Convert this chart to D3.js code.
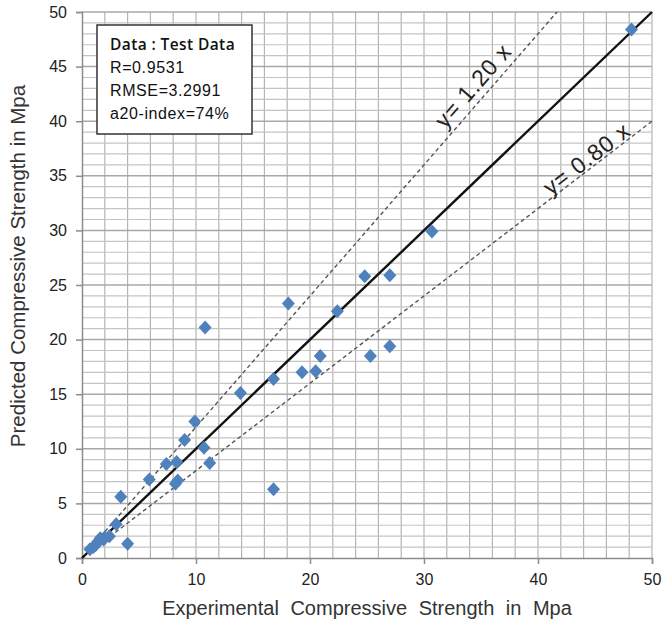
<!DOCTYPE html>
<html><head><meta charset="utf-8">
<script src="https://cdn.jsdelivr.net/npm/d3@7"></script>
<style>body{margin:0;background:#fff}svg{display:block}</style>
</head><body>
<script>
const experimental = [48.2,30.7,24.8,27.0,18.1,22.4,10.8,20.9,25.3,27.0,19.3,20.5,16.8,13.9,9.9,9.0,10.7,7.4,8.3,11.2,5.9,8.4,8.2,16.8,3.4,3.0,4.0,2.4,1.9,1.4,1.0,0.7,1.6,1.2,2.0];
const predicted    = [48.4,29.9,25.8,25.9,23.3,22.6,21.1,18.5,18.5,19.4,17.0,17.1,16.4,15.1,12.5,10.8,10.1,8.6,8.8,8.7,7.2,7.1,6.8,6.3,5.6,3.1,1.3,2.0,1.7,1.5,1.0,0.8,1.8,1.2,1.9];
const xTicks = [0,10,20,30,40,50];
const yTicks = [0,5,10,15,20,25,30,35,40,45,50];
const statsLines = ["Data : Test Data","R=0.9531","RMSE=3.2991","a20-index=74%"];
const refSlopes = [1.20, 0.80];
const refLabels = ["y= 1.20 x","y= 0.80 x"];

const W=663,H=624;
const svg=d3.select("body").append("svg").attr("width",W).attr("height",H);
const x=d3.scaleLinear().domain([0,50]).range([82,652]);
const y=d3.scaleLinear().domain([0,50]).range([558,12]);
const font="Liberation Sans, Arial, sans-serif";

// grid
const g=svg.append("g");
g.selectAll("line.v").data(d3.range(2,51,2)).join("line")
 .attr("x1",d=>x(d)).attr("x2",d=>x(d)).attr("y1",y(0)).attr("y2",y(50))
 .attr("stroke","#b4b4b4").attr("stroke-width",1.2);
g.selectAll("line.h").data(d3.range(1,51,1)).join("line")
 .attr("y1",d=>y(d)).attr("y2",d=>y(d)).attr("x1",x(0)).attr("x2",x(50))
 .attr("stroke",d=>d%5===0?"#a8a8a8":"#c4c4c4").attr("stroke-width",d=>d%5===0?1.5:1.2);

// axes
const xa=svg.append("g").attr("transform",`translate(0,${y(0)})`)
 .call(d3.axisBottom(x).tickValues(xTicks).tickSize(6).tickPadding(10));
const ya=svg.append("g").attr("transform",`translate(${x(0)},0)`)
 .call(d3.axisLeft(y).tickValues(yTicks).tickSize(6).tickPadding(9));
[xa,ya].forEach(a=>{
 a.selectAll("path,line").attr("stroke","#8c8c8c").attr("stroke-width",1.5);
 a.selectAll("text").attr("font-family",font).attr("font-size",16).attr("fill","#222");
});

// reference lines
const line=d3.line().x(d=>x(d[0])).y(d=>y(d[1]));
refSlopes.forEach(s=>{
 const xe=Math.min(50,50/s);
 svg.append("path").attr("d",line([[0,0],[xe,xe*s]]))
  .attr("fill","none").attr("stroke","#555").attr("stroke-width",1.4).attr("stroke-dasharray","4,3");
});
svg.append("path").attr("d",line([[0,0],[50,50]]))
 .attr("fill","none").attr("stroke","#111").attr("stroke-width",2.4);

// line labels
const labPos=[{cx:35.3,off:-7},{cx:44.8,off:-2}];
refSlopes.forEach((s,i)=>{
 const l=labPos[i];
 const px=x(l.cx),py=y(l.cx*s);
 const ang=Math.atan2(y(s*10)-y(0),x(10)-x(0))*180/Math.PI;
 svg.append("text").attr("transform",`translate(${px},${py}) rotate(${ang}) translate(0,${l.off})`)
  .attr("text-anchor","middle").attr("font-family",font).attr("font-size",23).attr("letter-spacing",1)
  .attr("fill","#222").text(refLabels[i]);
});

// points
const pts=experimental.map((v,i)=>[v,predicted[i]]);
svg.append("g").selectAll("path").data(pts).join("path")
 .attr("transform",d=>`translate(${x(d[0])},${y(d[1])})`)
 .attr("d","M0,-7L6.5,0L0,7L-6.5,0Z").attr("fill","#4f81bd");

// stats box
svg.append("rect").attr("x",97).attr("y",25).attr("width",155).attr("height",109)
 .attr("fill","#fff").attr("stroke","#333").attr("stroke-width",1.5);
svg.append("g").selectAll("text").data(statsLines).join("text")
 .attr("x",110).attr("y",(d,i)=>50+i*23)
 .attr("font-family",(d,i)=>i===0?"Open Sans, sans-serif":font)
 .attr("font-weight",(d,i)=>i===0?600:400)
 .attr("letter-spacing",(d,i)=>i===0?0.4:0.6)
 .attr("font-size",(d,i)=>i===0?15.5:16).attr("fill","#111").text(d=>d);

// axis titles
svg.append("text").attr("x",367).attr("y",615).attr("text-anchor","middle")
 .attr("font-family",font).attr("font-size",20).attr("fill","#333").attr("word-spacing",6)
 .text("Experimental Compressive Strength in Mpa");
svg.append("text").attr("transform","translate(25,266) rotate(-90)").attr("text-anchor","middle")
 .attr("font-family",font).attr("font-size",20.5).attr("fill","#333")
 .text("Predicted Compressive Strength in Mpa");
</script>
</body></html>
